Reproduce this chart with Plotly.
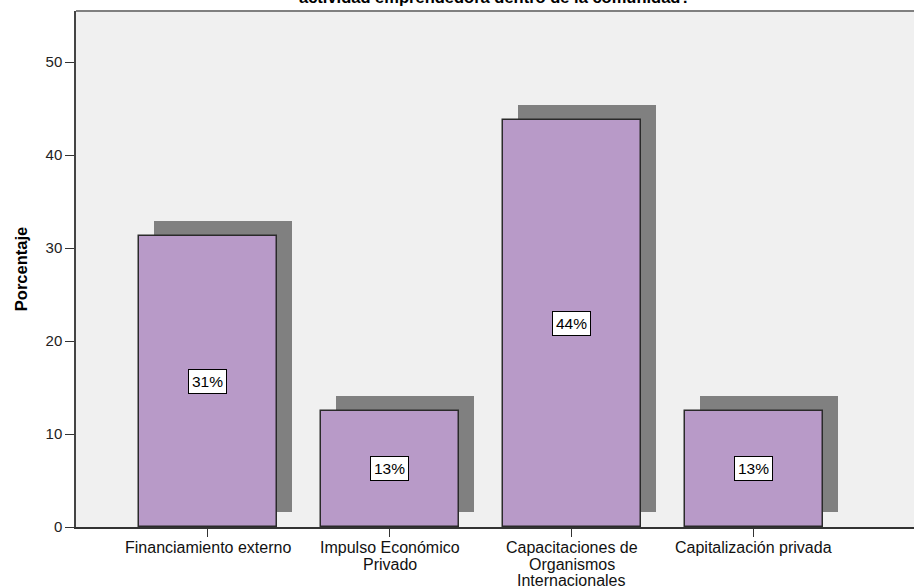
import plotly.graph_objects as go

categories = ["Financiamiento externo", "Impulso Económico<br>Privado",
              "Capacitaciones de<br>Organismos<br>Internacionales", "Capitalización privada"]
values = [31.25, 12.5, 43.75, 12.5]
value_labels = ["31%", "13%", "44%", "13%"]
y_ticks = [0, 10, 20, 30, 40, 50]
title_text = "actividad emprendedora dentro de la comunidad?"

FONT = "Liberation Sans, Arial, sans-serif"
idx = list(range(len(categories)))
bar_width = 0.758
shadow_dx = 0.0824
shadow_dy = 1.61

fig = go.Figure()
fig.add_trace(go.Bar(
    x=[i + shadow_dx for i in idx], y=values, base=[shadow_dy] * len(values),
    width=bar_width, marker=dict(color="#808080", line=dict(width=0)),
    hoverinfo="skip", showlegend=False))
fig.add_trace(go.Bar(
    x=idx, y=values, width=bar_width,
    marker=dict(color="#B89AC8", line=dict(color="#2a2a2a", width=1.5)),
    showlegend=False))

for i, v, lab in zip(idx, values, value_labels):
    fig.add_annotation(x=i, y=v / 2, text=lab, showarrow=False,
                       font=dict(family=FONT, size=15.5, color="#000"),
                       bgcolor="white", bordercolor="#000", borderwidth=1, borderpad=3)

# category labels (multi-line with tight line spacing)
for i, cat in zip(idx, categories):
    for k, line in enumerate(cat.split("<br>")):
        fig.add_annotation(x=i, xref="x", yref="paper", y=0, yanchor="middle",
                           yshift=-(20.5 + 16.5 * k), text=line, showarrow=False,
                           font=dict(family=FONT, size=16, color="#111"))

fig.add_annotation(xref="paper", yref="paper", x=0.5, y=1, yanchor="bottom",
                   yshift=3, text="<b>" + title_text + "</b>", showarrow=False,
                   font=dict(family=FONT, size=16.5, color="#000"))

fig.update_layout(
    width=914, height=586,
    margin=dict(l=76, r=0, t=11, b=58.5, autoexpand=False),
    paper_bgcolor="white", plot_bgcolor="#F0F0F0",
    barmode="overlay", bargap=0,
    font=dict(family=FONT, size=15, color="#222"),
)
fig.update_xaxes(range=[-0.7236, 3.881], tickmode="array", tickvals=idx,
                 showticklabels=False, ticks="outside", ticklen=8, tickcolor="#333",
                 showline=True, linecolor="#333", linewidth=1.5, showgrid=False,
                 zeroline=False)
fig.update_yaxes(range=[0, 55.5], tickmode="array", tickvals=y_ticks,
                 ticks="outside", ticklen=9, tickcolor="#333",
                 showline=True, linecolor="#444", linewidth=1.5, showgrid=False,
                 zeroline=False, tickfont=dict(size=15, color="#222"),
                 title=dict(text="<b>Porcentaje</b>", font=dict(size=16.5, color="#000"), standoff=14))
fig.add_shape(type="line", xref="paper", yref="paper", x0=0, x1=1, y0=1, y1=1,
              line=dict(color="#808080", width=2))

fig.write_html("out.html", config={"displayModeBar": False},
               post_script="document.body.style.margin='0';")
